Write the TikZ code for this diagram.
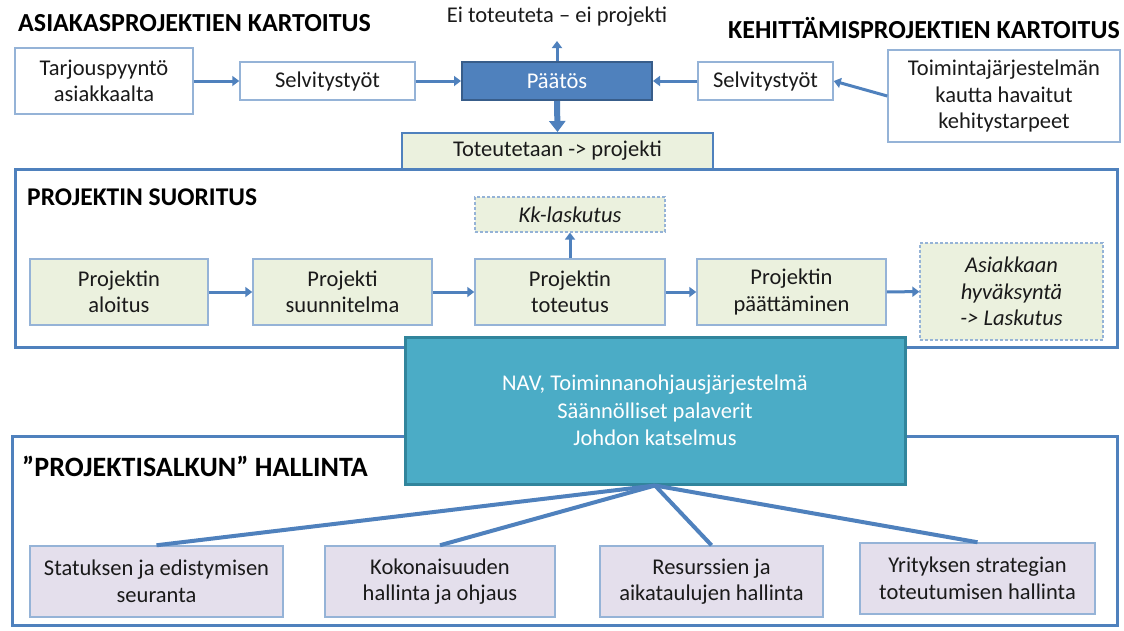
\documentclass[tikz,border=0pt]{standalone}
\usepackage{fontspec}
\setmainfont{Carlito}
\usetikzlibrary{arrows.meta,calc}
\definecolor{accent}{HTML}{4F81BD}
\definecolor{thinb}{HTML}{95B3D7}
\definecolor{darkb}{HTML}{385D8A}
\definecolor{greenf}{HTML}{EBF1DE}
\definecolor{purplef}{HTML}{E4DFEC}
\definecolor{tealf}{HTML}{4BACC6}
\definecolor{tealb}{HTML}{31859C}
\definecolor{txt}{HTML}{1A1A1A}
\begin{document}
\begin{tikzpicture}[x=1pt,y=-1pt,
  body/.style={font=\fontsize{22.5}{26.5}\selectfont, text=txt},
  wbox/.style={draw=thinb, line width=1.5pt, fill=white, align=center, inner sep=2pt, body},
  gbox/.style={wbox, fill=greenf},
  dbox/.style={gbox, dash pattern=on 3pt off 2pt, line width=1.2pt},
  pbox/.style={wbox, fill=purplef},
  ttl/.style={font=\fontsize{26}{30}\selectfont\bfseries, text=black, anchor=west, inner sep=0pt},
  arr/.style={draw=accent, line width=3pt, -{Triangle[length=7pt,width=10pt]}},
  bigarr/.style={draw=accent, line width=6pt, -{Triangle[length=11pt,width=16pt]}},
  big/.style={draw=accent, line width=3pt},
  link/.style={draw=accent, line width=4pt},
]
\useasboundingbox (0,0) rectangle (1124,630);
\fill[white] (0,0) rectangle (1124,630);

% titles
\node[ttl] (t1) at (18,23) {ASIAKASPROJEKTIEN KARTOITUS};
\node[ttl, anchor=east] (t2) at (1120,28) {KEHITTÄMISPROJEKTIEN KARTOITUS};
\node[body, inner sep=0pt] (ei) at (557,17) {Ei toteuteta – ei projekti};
\coordinate (eiend) at (557,41);

% top row
\node[wbox, minimum width=178, minimum height=66] (tarj) at (104,81) {Tarjouspyyntö\\asiakkaalta};
\node[wbox, minimum width=175, minimum height=38] (selvL) at (327.5,81) {Selvitystyöt};
\node[draw=darkb, line width=2pt, fill=accent, minimum width=190, minimum height=38, body, text=white] (paatos) at (557,81) {Päätös};
\node[wbox, minimum width=135, minimum height=38] (selvR) at (765.5,81) {Selvitystyöt};
\node[wbox, minimum width=232, minimum height=92] (toim) at (1004,96) {Toimintajärjestelmän\\kautta havaitut\\kehitystarpeet};

% container 1
\draw[big] (15,169) rectangle (1117,347);
\node[ttl, font=\fontsize{25.5}{29}\selectfont\bfseries] (t3) at (27,197) {PROJEKTIN SUORITUS};

\node[gbox, draw=accent, line width=2pt, minimum width=311, minimum height=36] (tot) at (557.5,151) {Toteutetaan -> projekti};

\draw[arr] (tarj) -- (selvL);
\draw[arr] (selvL) -- (paatos);
\draw[arr] (selvR) -- (paatos);
\draw[arr] (toim.west) -- (selvR.east);
\draw[arr] (paatos.north) -- (eiend);
\draw[bigarr] (paatos.south) -- (tot.north);

% process row
\node[dbox, minimum width=190, minimum height=35, font=\fontsize{22.5}{26.5}\selectfont\itshape] (kk) at (570,214.5) {Kk-laskutus};
\node[gbox, minimum width=178, minimum height=66] (alo) at (119,292) {Projektin\\aloitus};
\node[gbox, minimum width=179, minimum height=66] (suu) at (342.5,292) {Projekti\\suunnitelma};
\node[gbox, minimum width=190, minimum height=66] (tote) at (570,292) {Projektin\\toteutus};
\node[gbox, minimum width=189, minimum height=66] (paat) at (791.5,292) {Projektin\\päättäminen};
\node[dbox, minimum width=183, minimum height=97, font=\fontsize{22.5}{26.5}\selectfont\itshape] (asi) at (1011.5,291.5) {Asiakkaan\\hyväksyntä\\-> Laskutus};

\draw[arr] (alo) -- (suu);
\draw[arr] (suu) -- (tote);
\draw[arr] (tote) -- (paat);
\draw[arr] (paat) -- (asi);
\draw[arr] (tote) -- (kk);

% container 2
\draw[big] (12,436) rectangle (1117,625);
\node[ttl, font=\fontsize{28}{32}\selectfont\bfseries] (t4) at (22,466) {”PROJEKTISALKUN” HALLINTA};

% teal hub
\node[draw=tealb, line width=3pt, fill=tealf, minimum width=500, minimum height=147, align=center,
  font=\fontsize{22.5}{27.5}\selectfont, text=white] (teal) at (655,410.5)
  {NAV, Toiminnanohjausjärjestelmä\\Säännölliset palaverit\\Johdon katselmus};

% bottom boxes
\node[pbox, minimum width=253, minimum height=71] (stat) at (156.5,581.5) {Statuksen ja edistymisen\\seuranta};
\node[pbox, minimum width=230, minimum height=71] (koko) at (440,581.5) {Kokonaisuuden\\hallinta ja ohjaus};
\node[pbox, minimum width=223, minimum height=71] (res) at (711.5,581.5) {Resurssien ja\\aikataulujen hallinta};
\node[pbox, minimum width=235, minimum height=71] (yrit) at (977.5,578.5) {Yrityksen strategian\\toteutumisen hallinta};

\draw[link] (teal.south) -- (stat.north);
\draw[link] (teal.south) -- (koko.north);
\draw[link] (teal.south) -- (res.north);
\draw[link] (teal.south) -- (yrit.north);
\end{tikzpicture}
\end{document}
